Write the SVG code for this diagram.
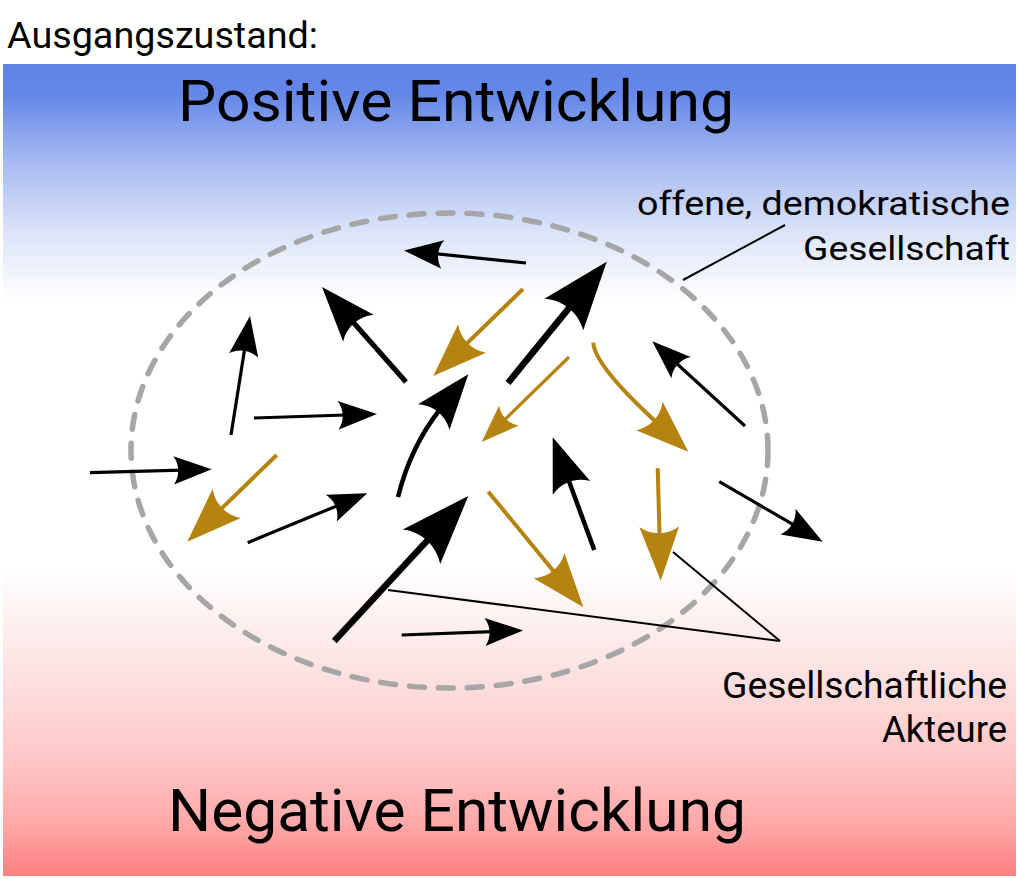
<svg xmlns="http://www.w3.org/2000/svg" xmlns:xlink="http://www.w3.org/1999/xlink" width="1018" height="879" viewBox="0 0 1018 879">
<style>
.t{font-family:Roboto,"Liberation Sans",sans-serif;fill:#000}
.k{stroke:#000;fill:none;stroke-linecap:butt}
.g{stroke:#b5830f;fill:none;stroke-linecap:butt}
.hk{fill:#000}
.hg{fill:#b5830f}
.call{stroke:#000;stroke-width:2;fill:none}
</style>
<defs>
<linearGradient id="bg" x1="0" y1="64" x2="0" y2="876" gradientUnits="userSpaceOnUse">
<stop offset="0" stop-color="#5e82e6"/>
<stop offset="0.04" stop-color="#6688e8"/>
<stop offset="0.12" stop-color="#a6baf1"/>
<stop offset="0.2" stop-color="#d8e1f9"/>
<stop offset="0.29" stop-color="#ffffff"/>
<stop offset="0.62" stop-color="#ffffff"/>
<stop offset="0.74" stop-color="#fde4e4"/>
<stop offset="0.86" stop-color="#ffc6c6"/>
<stop offset="0.94" stop-color="#ffa6a6"/>
<stop offset="1" stop-color="#ff7f7f"/>
</linearGradient>
<path id="hd" d="M0,0 L-1,-0.369 C-0.84,-0.149 -0.84,0.149 -1,0.369 Z"/>
</defs>

<rect id="background" x="3" y="64" width="1013" height="812" fill="url(#bg)"/>

<g id="title">
<text class="t" x="7" y="48" font-size="36" textLength="311" lengthAdjust="spacingAndGlyphs">Ausgangszustand:</text>
</g>
<g id="positive">
<text class="t" x="178" y="121" font-size="58" textLength="556" lengthAdjust="spacingAndGlyphs">Positive Entwicklung</text>
</g>
<g id="negative">
<text class="t" x="168" y="831" font-size="60" textLength="578" lengthAdjust="spacingAndGlyphs">Negative Entwicklung</text>
</g>

<g id="society">
<ellipse cx="449.5" cy="450.5" rx="318.5" ry="237.5" fill="none" stroke="#a6a6a6" stroke-width="5.5" stroke-linecap="round" stroke-dasharray="15 14"/>
</g>

<g id="society-label">
<text class="t" x="637" y="215" font-size="33" textLength="373" lengthAdjust="spacingAndGlyphs">offene, demokratische</text>
<text class="t" x="803" y="260" font-size="33" textLength="207" lengthAdjust="spacingAndGlyphs">Gesellschaft</text>
</g>
<g id="actors-label">
<text class="t" x="722" y="698" font-size="36" textLength="285" lengthAdjust="spacingAndGlyphs">Gesellschaftliche</text>
<text class="t" x="882" y="742" font-size="36" textLength="125" lengthAdjust="spacingAndGlyphs">Akteure</text>
</g>

<g id="actors">
<g id="a-A"><path class="k" stroke-width="3.2" d="M526,263 L435,253.7"/><use xlink:href="#hd" class="hk" transform="translate(404,250.5) rotate(185.85) scale(39)"/></g>
<g id="a-B"><path class="k" stroke-width="3.2" d="M231,435 L244.9,347.6"/><use xlink:href="#hd" class="hk" transform="translate(250,316) rotate(-80.9) scale(40)"/></g>
<g id="a-C"><path class="k" stroke-width="5" d="M406,382 L351.2,320"/><use xlink:href="#hd" class="hk" transform="translate(322,287) rotate(-131.5) scale(55)"/></g>
<g id="a-D"><path class="k" stroke-width="3.2" d="M254,418 L345.8,415"/><use xlink:href="#hd" class="hk" transform="translate(377,414) rotate(-1.9) scale(39)"/></g>
<g id="a-E"><path class="k" stroke-width="4.5" d="M398,497 Q410.7,446 440.7,408.5"/><use xlink:href="#hd" class="hk" transform="translate(468.3,374.3) rotate(-51.1) scale(55)"/></g>
<g id="a-F"><path class="g" stroke-width="4" d="M523,289 L464.3,345.9"/><use xlink:href="#hd" class="hg" transform="translate(433.3,376) rotate(135.9) scale(54)"/></g>
<g id="a-G"><path class="k" stroke-width="6.5" d="M508,383 L572.4,303.9"/><use xlink:href="#hd" class="hk" transform="translate(606.7,261.7) rotate(-50.9) scale(68)"/></g>
<g id="a-H"><path class="g" stroke-width="3.2" d="M569,357 L503.5,420.8"/><use xlink:href="#hd" class="hg" transform="translate(481.7,442) rotate(135.8) scale(38)"/></g>
<g id="a-I"><path class="g" stroke-width="4" d="M593.3,342.7 Q594.4,365.3 657.1,423"/><use xlink:href="#hd" class="hg" transform="translate(688.3,451.7) rotate(42.6) scale(53)"/></g>
<g id="a-J"><path class="k" stroke-width="3.2" d="M745,426 L675.3,362.3"/><use xlink:href="#hd" class="hk" transform="translate(652.3,341.3) rotate(-137.6) scale(39)"/></g>
<g id="a-K"><path class="k" stroke-width="3.2" d="M90,472.7 L181.3,470.2"/><use xlink:href="#hd" class="hk" transform="translate(211.7,469.3) rotate(-1.6) scale(38)"/></g>
<g id="a-L"><path class="g" stroke-width="4" d="M276.7,455 L218.9,511.1"/><use xlink:href="#hd" class="hg" transform="translate(187.3,541.7) rotate(135.9) scale(55)"/></g>
<g id="a-M"><path class="k" stroke-width="3.2" d="M247.7,542.7 L338.5,505.2"/><use xlink:href="#hd" class="hk" transform="translate(367.3,493.3) rotate(-22.4) scale(39)"/></g>
<g id="a-N"><path class="k" stroke-width="6.5" d="M334.3,641 L430.9,536.6"/><use xlink:href="#hd" class="hk" transform="translate(468.3,496) rotate(-47.3) scale(69)"/></g>
<g id="a-O"><path class="k" stroke-width="3.2" d="M401.7,635 L492.6,631.6"/><use xlink:href="#hd" class="hk" transform="translate(523,630.5) rotate(-2.1) scale(38)"/></g>
<g id="a-P"><path class="k" stroke-width="4.5" d="M594.3,550 L567.7,477.8"/><use xlink:href="#hd" class="hk" transform="translate(552.7,437.3) rotate(-110.3) scale(54)"/></g>
<g id="a-Q"><path class="g" stroke-width="4" d="M488.3,491.7 L555.9,573.9"/><use xlink:href="#hd" class="hg" transform="translate(583.3,607.3) rotate(50.6) scale(54)"/></g>
<g id="a-R"><path class="g" stroke-width="4" d="M657.7,468.3 L659.6,537.5"/><use xlink:href="#hd" class="hg" transform="translate(660.7,580.7) rotate(88.5) scale(54)"/></g>
<g id="a-S"><path class="k" stroke-width="3.2" d="M719.3,481.7 L795,525.7"/><use xlink:href="#hd" class="hk" transform="translate(822.7,541.7) rotate(30.1) scale(40)"/></g>
</g>

<g id="connectors">
<path class="call" d="M683,280 L785,225"/>
<path class="call" d="M388,590 L780,641"/>
<path class="call" d="M673,552 L780,641"/>
</g>
</svg>
